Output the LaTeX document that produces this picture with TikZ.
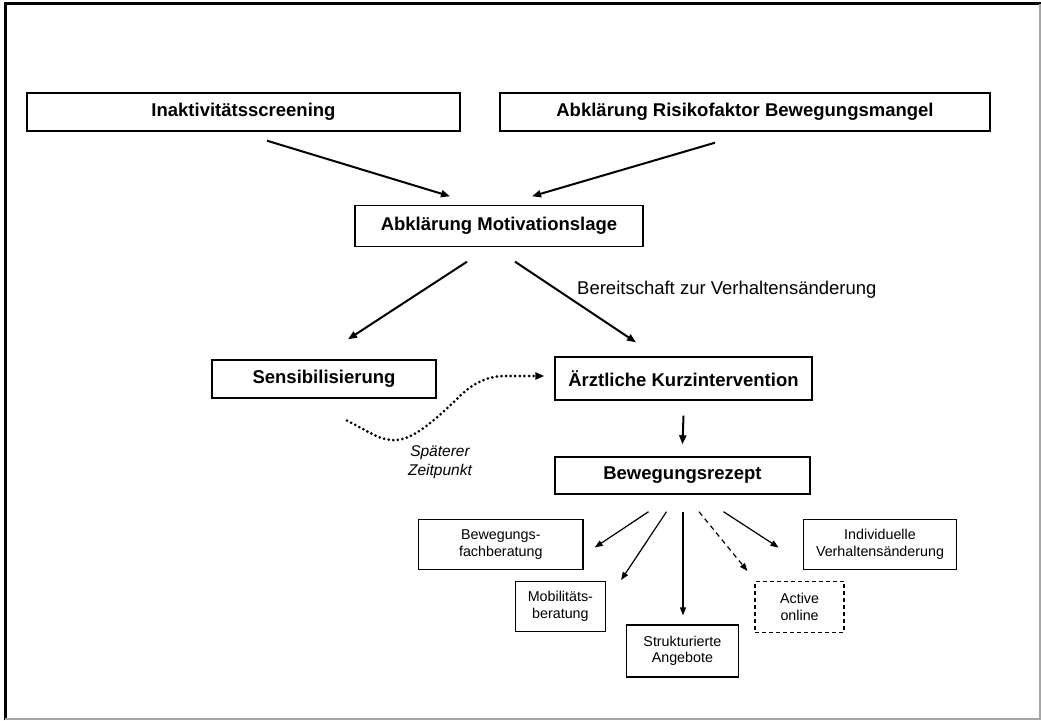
\documentclass[tikz,border=0pt]{standalone}
\usepackage{fontspec}
\setmainfont{Liberation Sans}
\usetikzlibrary{arrows.meta}
\begin{document}
\begin{tikzpicture}[x=1pt,y=-1pt,
 bigbox/.style={draw, line width=1.4pt, minimum height=38pt, font=\bfseries\fontsize{18.5}{22}\selectfont, inner sep=0pt},
 smallbox/.style={draw, line width=1.3pt, align=center, font=\fontsize{14.3}{16.5}\selectfont, inner sep=0pt},
 mainarrow/.style={line width=2pt, -{Triangle[length=9pt,width=7pt]}},
 subarrow/.style={line width=1.2pt, -{Triangle[length=8pt,width=6pt]}},
 dotline/.style={line width=3pt, line cap=round, dash pattern=on 0pt off 4.6pt, -{Triangle[length=9pt,width=7pt]}}]
\useasboundingbox (0,0) rectangle (1041,720);
\draw[line width=3pt] (5,720) -- (5,3.5) -- (1041,3.5);
\draw[black!35, line width=1.5pt] (1040,3.5) -- (1040,718.8) -- (5,718.8);

\node[bigbox, minimum width=433pt] (ina) at (243.5,112) {Inaktivitätsscreening};
\node[bigbox, minimum width=490pt] (ris) at (745,112) {Abklärung Risikofaktor Bewegungsmangel};
\node[bigbox, minimum width=288pt, minimum height=41pt] (mot) at (499,226) {Abklärung Motivationslage};
\node[bigbox, minimum width=224pt] (sen) at (324,379) {Sensibilisierung};
\node[bigbox, minimum width=257pt, minimum height=43pt] (kurz) at (683.5,378.5) {Ärztliche Kurzintervention};
\node[bigbox, minimum width=255pt, minimum height=37pt] (rez) at (682.5,475.5) {Bewegungsrezept};

\node[smallbox, minimum width=164.6pt, minimum height=50pt] (fach) at (500.8,544.5) {Bewegungs-\\fachberatung};
\node[smallbox, minimum width=90pt, minimum height=49.6pt] (mob) at (560.4,606.5) {Mobilitäts-\\beratung};
\node[smallbox, minimum width=112pt, minimum height=52pt] (str) at (682.4,651) {Strukturierte\\Angebote};
\node[smallbox, dash pattern=on 4pt off 3pt, minimum width=89pt, minimum height=50.7pt] (act) at (799.6,607) {Active\\online};
\node[smallbox, minimum width=153.5pt, minimum height=50pt] (ind) at (880,544.5) {Individuelle\\Verhaltensänderung};

\node[anchor=west, font=\fontsize{18.5}{22}\selectfont, inner sep=0pt] (lab) at (577,290) {Bereitschaft zur Verhaltensänderung};
\node[align=center, font=\itshape\fontsize{15.5}{19}\selectfont, inner sep=0pt] (spaet) at (440,462) {Späterer\\Zeitpunkt};

\draw[mainarrow] ([shift={(23.5,9)}]ina.south) -- ([shift={(-49,-8.5)}]mot.north);
\draw[mainarrow] ([shift={(-30,11)}]ris.south) -- ([shift={(33,-8.5)}]mot.north);
\draw[mainarrow] ([shift={(-32,14.5)}]mot.south) -- ([shift={(24,-20)}]sen.north);
\draw[mainarrow] ([shift={(16,14.5)}]mot.south) -- ([shift={(-47.5,-14)}]kurz.north);
\draw[mainarrow] ([shift={(0,15)}]kurz.south) -- ([shift={(0,-12)}]rez.north);

\draw[dotline] ([shift={(23,22)}]sen.south) .. controls (372,433) and (380,441) .. (397,440)
  .. controls (415,439) and (440,415) .. (455,401)
  .. controls (470,385) and (485,376) .. (505,376)
  -- ([shift={(-10,-2.5)}]kurz.west);

\draw[subarrow] ([shift={(-34,17)}]rez.south) -- ([shift={(11,3)}]fach.east);
\draw[subarrow] ([shift={(-16,17)}]rez.south) -- ([shift={(15,-1)}]mob.north east);
\draw[subarrow] ([shift={(0.5,17)}]rez.south) -- ([shift={(0.6,-9)}]str.north);
\draw[subarrow, dash pattern=on 5pt off 4pt] ([shift={(16.5,17)}]rez.south) -- ([shift={(-7,-10)}]act.north west);
\draw[subarrow] ([shift={(41,17)}]rez.south) -- ([shift={(-24,3)}]ind.west);
\end{tikzpicture}
\end{document}
